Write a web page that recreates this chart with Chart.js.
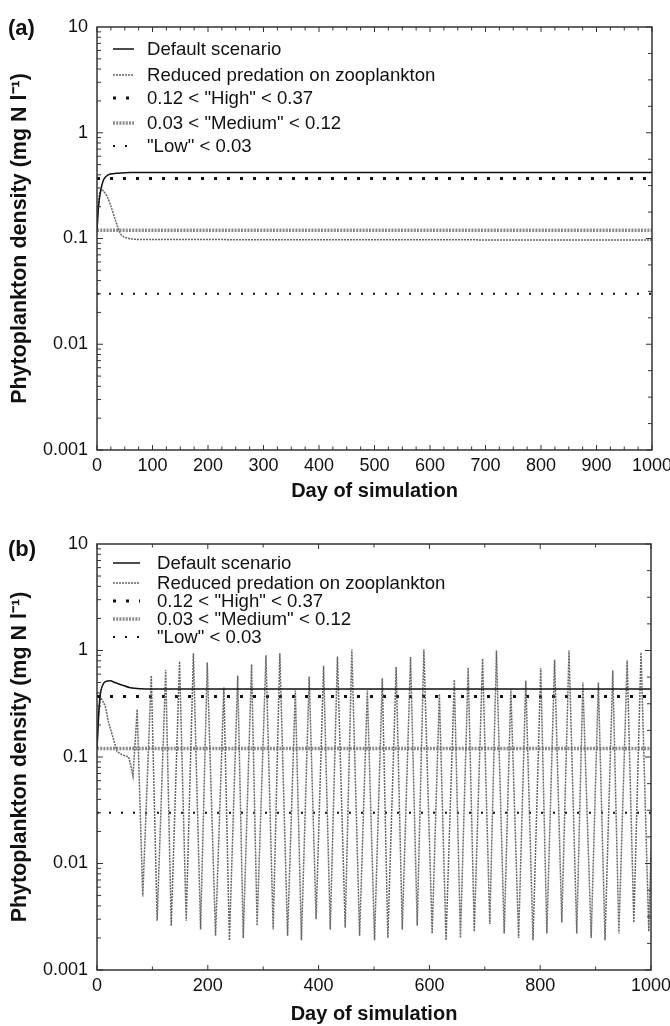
<!DOCTYPE html>
<html>
<head>
<meta charset="utf-8">
<script src="https://cdn.jsdelivr.net/npm/chart.js@4.4.1/dist/chart.umd.min.js"></script>
<style>
body { margin:0; background:#fff; width:670px; height:1026px; position:relative; overflow:hidden; }
canvas { position:absolute; left:0; }
#chartA { top:0; }
#chartB { top:505px; }
.panel { position:absolute; left:8px; font:bold 22px 'Liberation Sans', Arial, sans-serif; color:#111; line-height:26px; }
</style>
</head>
<body>
<canvas id="chartA" width="670" height="505"></canvas>
<canvas id="chartB" width="670" height="521"></canvas>
<div class="panel" style="top:15px">(a)</div>
<div class="panel" style="top:536px">(b)</div>
<script>
// legend text, shared by both panels
const seriesLabels = ['Default scenario', 'Reduced predation on zooplankton',
  '0.12 < "High" < 0.37', '0.03 < "Medium" < 0.12', '"Low" < 0.03'];
// threshold levels: High, Medium, Low
const bandLevels = [0.37, 0.12, 0.03];
const dayRange = [0, 1000];
const yTicks = [0.001, 0.01, 0.1, 1, 10];
const xTicksA = [0, 100, 200, 300, 400, 500, 600, 700, 800, 900, 1000];
const xTicksB = [0, 200, 400, 600, 800, 1000];

// panel (a)
const aDefaultDays = [0, 2, 4, 7, 11, 15, 20, 28, 38, 60, 1000];
const aDefaultVals = [0.12, 0.18, 0.23, 0.29, 0.35, 0.38, 0.40, 0.41, 0.415, 0.42, 0.42];
const aReducedDays = [0, 2, 4, 8, 12, 18, 24, 33, 42, 55, 80, 1000];
const aReducedVals = [0.12, 0.18, 0.25, 0.29, 0.28, 0.25, 0.21, 0.15, 0.112, 0.101, 0.098, 0.097];

// panel (b)
const bDefaultDays = [0, 3, 6, 10, 15, 24, 32, 42, 60, 78, 100, 1000];
const bDefaultVals = [0.12, 0.25, 0.39, 0.47, 0.51, 0.52, 0.50, 0.48, 0.447, 0.437, 0.435, 0.435];
const bReducedDays = [0, 3, 6, 15, 21, 30, 36, 45, 57, 60, 65, 72.5, 82.6, 98, 108.6, 124, 134, 149, 161, 174,
  187, 199, 214, 229, 239, 254, 264, 279, 289, 305, 318, 330, 344, 358, 369, 383, 395.5, 409, 421, 434,
  448, 460, 474, 488, 501, 515, 525, 540, 551, 566, 578, 590, 605, 618, 630, 645, 656, 670, 681, 696,
  709, 721, 735, 747, 761, 774, 787, 801, 812, 826, 839, 852, 866, 877, 892, 905, 917, 931, 942, 957,
  969, 982, 996, 1000];
const bReducedVals = [0.12, 0.25, 0.37, 0.30, 0.21, 0.146, 0.113, 0.105, 0.10, 0.088, 0.066, 0.28, 0.0049, 0.58, 0.0029, 0.66, 0.0026, 0.79, 0.0029, 0.94,
  0.0024, 0.77, 0.0021, 0.45, 0.0019, 0.58, 0.0020, 0.74, 0.0026, 0.90, 0.0024, 0.94, 0.0021, 0.42, 0.0019, 0.57, 0.0030, 0.72, 0.0024, 0.88,
  0.0025, 1.02, 0.0021, 0.42, 0.0019, 0.55, 0.0020, 0.70, 0.0024, 0.87, 0.0026, 1.02, 0.0022, 0.39, 0.0019, 0.53, 0.0020, 0.69, 0.0023, 0.84,
  0.0027, 1.0, 0.0022, 0.43, 0.0020, 0.52, 0.0019, 0.68, 0.0022, 0.82, 0.0028, 1.0, 0.0022, 0.50, 0.0020, 0.50, 0.0019, 0.65, 0.0022, 0.81,
  0.0028, 0.96, 0.0023, 0.013];

const FONT = "'Liberation Sans', Arial, sans-serif";
Chart.defaults.font.family = FONT;
Chart.defaults.color = '#111';

function pts(days, vals) {
  return days.map((d, i) => ({ x: d, y: vals[i] }));
}

// line styles for the five series
const styles = [
  { borderColor: '#111', borderWidth: 1.5, borderDash: [] },
  { borderColor: '#666', borderWidth: 1.5, borderDash: [2, 1] },
  { borderColor: '#111', borderWidth: 3, borderDash: [3, 10] },
  { borderColor: '#8c8c8c', borderWidth: 3.5, borderDash: [2, 1.2] },
  { borderColor: '#111', borderWidth: 2, borderDash: [2, 10] }
];

function makeDatasets(defDays, defVals, redDays, redVals, smoothReduced) {
  const series = [
    pts(defDays, defVals),
    pts(redDays, redVals),
    pts(dayRange, [bandLevels[0], bandLevels[0]]),
    pts(dayRange, [bandLevels[1], bandLevels[1]]),
    pts(dayRange, [bandLevels[2], bandLevels[2]])
  ];
  return series.map((data, i) => Object.assign({
    label: seriesLabels[i],
    data: data,
    pointRadius: 0,
    fill: false,
    tension: 0,
    cubicInterpolationMode: (i === 0 || (i === 1 && smoothReduced)) ? 'monotone' : 'default'
  }, styles[i]));
}

// box + inward ticks on all four sides
const frameTicks = {
  id: 'frameTicks',
  afterDatasetsDraw(chart, args, opts) {
    const { ctx, chartArea: a, scales: { x, y } } = chart;
    ctx.save();
    ctx.strokeStyle = '#333';
    ctx.lineWidth = 1.5;
    ctx.strokeRect(a.left, a.top, a.right - a.left, a.bottom - a.top);
    ctx.lineWidth = 1;
    ctx.beginPath();
    for (let d = 0; d <= 1000; d += opts.xMinor) {
      const px = x.getPixelForValue(d);
      const len = d % opts.xMajor === 0 ? 5 : 3.5;
      ctx.moveTo(px, a.bottom); ctx.lineTo(px, a.bottom - len);
      ctx.moveTo(px, a.top); ctx.lineTo(px, a.top + len);
    }
    for (let e = -3; e <= 0; e++) {
      for (let k = 1; k <= 9; k++) {
        const py = y.getPixelForValue(k * Math.pow(10, e));
        const len = k === 1 ? 6 : 4;
        ctx.moveTo(a.left, py); ctx.lineTo(a.left + len, py);
      }
    }
    for (let q = -12; q <= 4; q++) {
      const py = y.getPixelForValue(Math.pow(10, q / 4));
      const len = q % 4 === 0 ? 6 : 4;
      ctx.moveTo(a.right, py); ctx.lineTo(a.right - len, py);
    }
    ctx.stroke();
    ctx.restore();
  }
};

// legend drawn inside the plot area
const innerLegend = {
  id: 'innerLegend',
  afterDraw(chart, args, opts) {
    const ctx = chart.ctx;
    ctx.save();
    chart.data.datasets.forEach((ds, i) => {
      const yy = opts.rows[i];
      ctx.strokeStyle = ds.borderColor;
      ctx.lineWidth = ds.borderWidth;
      ctx.setLineDash(ds.borderDash);
      ctx.beginPath();
      ctx.moveTo(opts.x0, yy);
      ctx.lineTo(opts.x1, yy);
      ctx.stroke();
      ctx.setLineDash([]);
      ctx.fillStyle = '#111';
      ctx.font = '18.6px ' + FONT;
      ctx.textBaseline = 'middle';
      ctx.fillText(ds.label, opts.textX, yy + 1);
    });
    ctx.restore();
  }
};

function makeChart(id, datasets, xTicks, xMinor, xMajor, pad, xHeight, titlePad, legendOpts) {
  return new Chart(document.getElementById(id), {
    type: 'line',
    data: { datasets: datasets },
    options: {
      responsive: false,
      animation: false,
      devicePixelRatio: 1,
      layout: { padding: pad },
      plugins: {
        legend: { display: false },
        tooltip: { enabled: false },
        frameTicks: { xMinor: xMinor, xMajor: xMajor },
        innerLegend: legendOpts
      },
      scales: {
        x: {
          type: 'linear', min: 0, max: 1000,
          grid: { display: false, drawTicks: false },
          border: { display: false },
          afterBuildTicks: s => { s.ticks = xTicks.map(v => ({ value: v })); },
          ticks: { font: { size: 18 }, padding: 5, maxRotation: 0, autoSkip: false, callback: v => String(v) },
          title: { display: true, text: 'Day of simulation', font: { size: 20, weight: 'bold' },
                   padding: { top: titlePad, bottom: titlePad } },
          afterFit: s => { s.height = xHeight; s.paddingLeft = 0; s.paddingRight = 0; }
        },
        y: {
          type: 'logarithmic', min: 0.001, max: 10,
          grid: { display: false, drawTicks: false },
          border: { display: false },
          afterBuildTicks: s => { s.ticks = yTicks.map(v => ({ value: v })); },
          ticks: { font: { size: 18 }, padding: 9, autoSkip: false, callback: v => String(v) },
          title: { display: true, text: 'Phytoplankton density (mg N l\u207B\u00B9)',
                   font: { size: 21.5, weight: 'bold' }, padding: { top: 7, bottom: 7 } },
          afterFit: s => { s.width = 97; s.paddingTop = 0; s.paddingBottom = 0; }
        }
      }
    },
    plugins: [frameTicks, innerLegend]
  });
}

makeChart('chartA',
  makeDatasets(aDefaultDays, aDefaultVals, aReducedDays, aReducedVals, true),
  xTicksA, 25, 100, { top: 27, right: 18, bottom: 0, left: 0 }, 55, 2,
  { rows: [49, 75, 98, 123, 146], x0: 113, x1: 134, textX: 147 });

makeChart('chartB',
  makeDatasets(bDefaultDays, bDefaultVals, bReducedDays, bReducedVals, false),
  xTicksB, 100, 200, { top: 39, right: 19, bottom: 0, left: 0 }, 56, 0,
  { rows: [58, 78, 96, 114, 132], x0: 113, x1: 140, textX: 157 });
</script>
</body>
</html>
